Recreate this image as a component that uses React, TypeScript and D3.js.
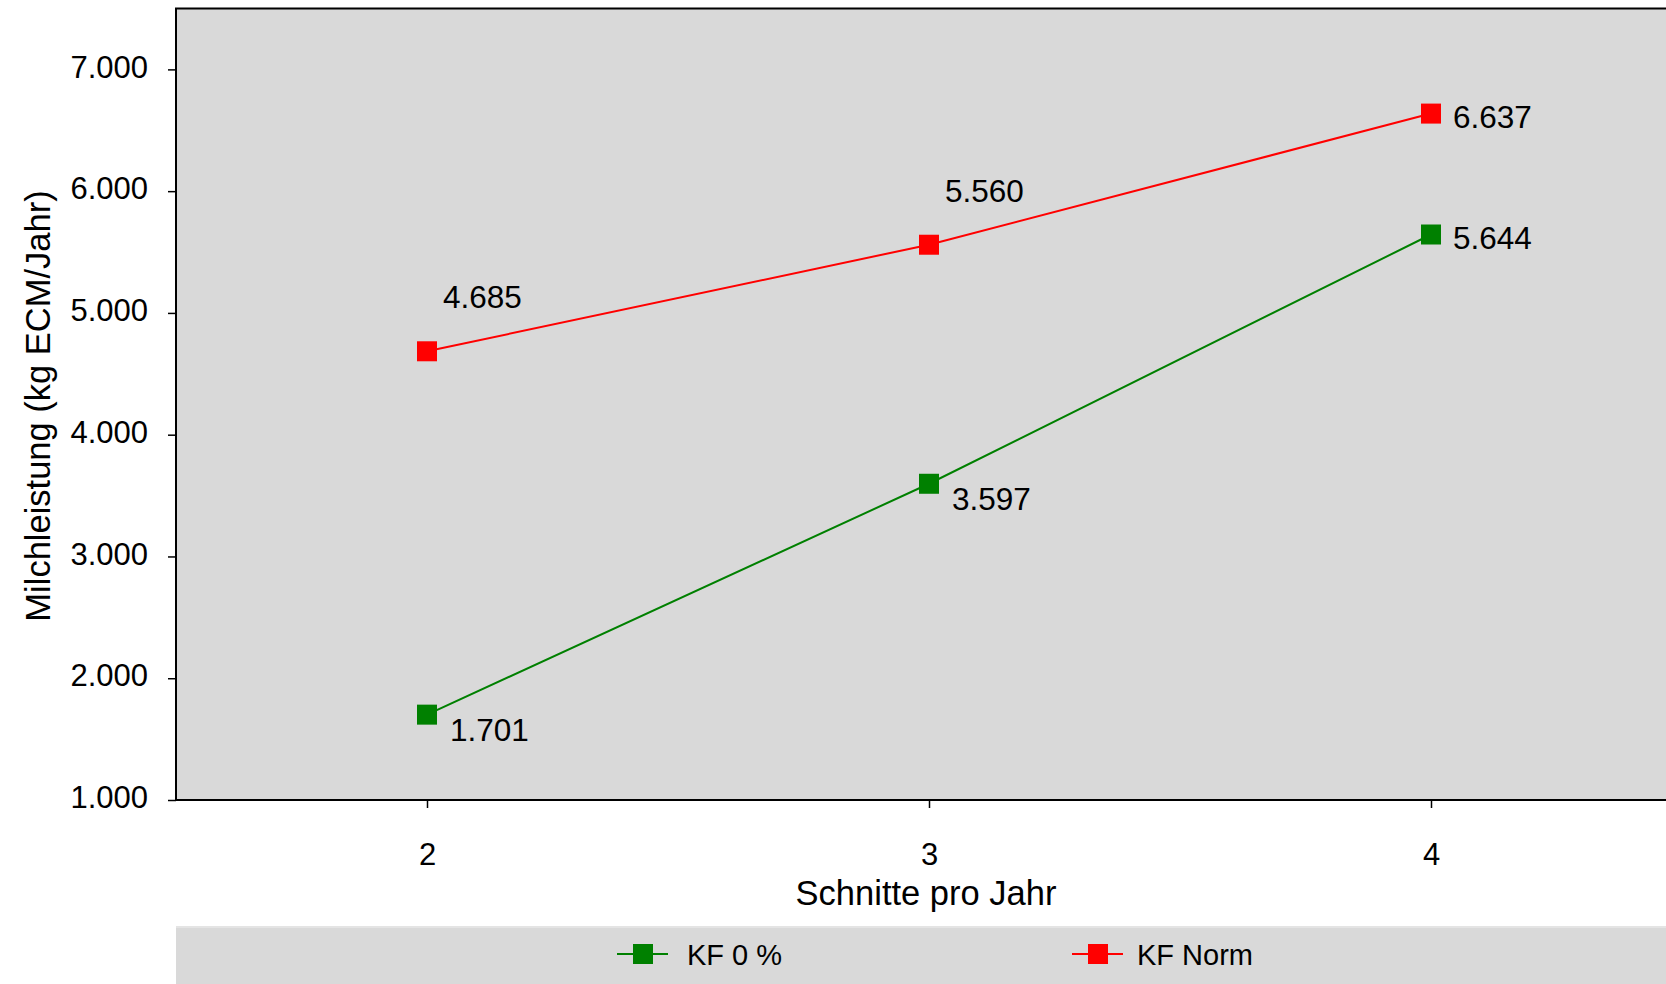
import React, { useEffect, useRef } from 'react';
import * as d3 from 'd3';

// Chart data
const categories = [2, 3, 4];
const kfNull = [1701, 3597, 5644];
const kfNorm = [4685, 5560, 6637];
const yTickValues = [1000, 2000, 3000, 4000, 5000, 6000, 7000];
const seriesNames = ['KF 0 %', 'KF Norm'];
const seriesColors = ['#008000', '#ff0000'];

const de = d3.formatLocale({ decimal: ',', thousands: '.', grouping: [3], currency: ['', ' €'] });
const fmt = de.format(',.0f');

const FONT = '"Liberation Sans", Arial, Helvetica, sans-serif';

const App: React.FC = () => {
  const svgRef = useRef<SVGSVGElement | null>(null);

  useEffect(() => {
    document.body.style.margin = '0';

    const width = 1666;
    const height = 984;
    const margin = { top: 8.5, left: 176 };
    const plotW = 1506;
    const plotBottom = 800;

    const svg = d3.select(svgRef.current!);
    svg.selectAll('*').remove();

    const x = d3.scaleLinear().domain([1.5, 4.5]).range([margin.left, margin.left + plotW]);
    const y = d3.scaleLinear().domain([1000, 7500]).range([plotBottom, margin.top]);

    // plot background
    svg
      .append('rect')
      .attr('x', margin.left)
      .attr('y', margin.top)
      .attr('width', plotW)
      .attr('height', plotBottom - margin.top)
      .attr('fill', '#d9d9d9')
      .attr('stroke', '#000')
      .attr('stroke-width', 2);

    // y axis
    const yAxis = svg
      .append('g')
      .attr('transform', `translate(${margin.left},0)`)
      .call(d3.axisLeft(y).tickValues(yTickValues).tickSize(8).tickPadding(20).tickFormat((d) => fmt(d as number)));
    yAxis.select('.domain').remove();
    yAxis.selectAll('line').attr('stroke', '#000').attr('stroke-width', 1.5);
    yAxis
      .selectAll('text')
      .attr('dy', '0.25em')
      .style('font-family', FONT)
      .style('font-size', '31px')
      .attr('fill', '#000');

    // x axis
    const xAxis = svg
      .append('g')
      .attr('transform', `translate(0,${plotBottom})`)
      .call(d3.axisBottom(x).tickValues(categories).tickSize(8).tickPadding(35).tickFormat((d) => String(d)));
    xAxis.select('.domain').remove();
    xAxis.selectAll('line').attr('stroke', '#000').attr('stroke-width', 1.5);
    xAxis.selectAll('text').style('font-family', FONT).style('font-size', '31px').attr('fill', '#000');

    svg
      .append('line')
      .attr('x1', margin.left)
      .attr('x2', width)
      .attr('y1', plotBottom)
      .attr('y2', plotBottom)
      .attr('stroke', '#000')
      .attr('stroke-width', 2);

    // axis titles
    svg
      .append('text')
      .attr('x', 926)
      .attr('y', 905)
      .attr('text-anchor', 'middle')
      .style('font-family', FONT)
      .style('font-size', '34.5px')
      .text('Schnitte pro Jahr');

    svg
      .append('text')
      .attr('transform', 'translate(50,406) rotate(-90)')
      .attr('text-anchor', 'middle')
      .style('font-family', FONT)
      .style('font-size', '34.5px')
      .text('Milchleistung (kg ECM/Jahr)');

    // series
    const allSeries = [kfNull, kfNorm];
    const line = d3
      .line<number>()
      .x((_, i) => x(categories[i]))
      .y((d) => y(d));

    allSeries.forEach((values, s) => {
      const g = svg.append('g');
      g.append('path')
        .attr('d', line(values))
        .attr('fill', 'none')
        .attr('stroke', seriesColors[s])
        .attr('stroke-width', 2);

      g.selectAll('rect')
        .data(values)
        .enter()
        .append('rect')
        .attr('x', (_, i) => x(categories[i]) - 10)
        .attr('y', (d) => y(d) - 10)
        .attr('width', 20)
        .attr('height', 20)
        .attr('fill', seriesColors[s]);

      // value labels: last point to the right, others above (KF Norm) or below-right (KF 0 %)
      g.selectAll('text')
        .data(values)
        .enter()
        .append('text')
        .attr('x', (_, i) => x(categories[i]) + (i === values.length - 1 ? 22 : s === 1 ? 16 : 23))
        .attr('y', (d, i) => y(d) + (i === values.length - 1 ? 14 : s === 1 ? -43 : 26))
        .style('font-family', FONT)
        .style('font-size', '31.5px')
        .attr('fill', '#000')
        .text((d) => fmt(d));
    });

    // legend
    svg
      .append('rect')
      .attr('x', margin.left)
      .attr('y', 927)
      .attr('width', width - margin.left)
      .attr('height', height - 927)
      .attr('fill', '#d9d9d9');
    svg
      .append('line')
      .attr('x1', margin.left)
      .attr('x2', width)
      .attr('y1', 927)
      .attr('y2', 927)
      .attr('stroke', '#e4e4e4')
      .attr('stroke-width', 2);

    const legendX = [617, 1072];
    const legendTextX = [70, 65];
    seriesNames.forEach((name, s) => {
      const lg = svg.append('g').attr('transform', `translate(${legendX[s]},954)`);
      lg.append('line').attr('x1', 0).attr('x2', 51).attr('stroke', seriesColors[s]).attr('stroke-width', 2);
      lg.append('rect').attr('x', 16).attr('y', -10).attr('width', 20).attr('height', 20).attr('fill', seriesColors[s]);
      lg.append('text')
        .attr('x', legendTextX[s])
        .attr('y', 11)
        .style('font-family', FONT)
        .style('font-size', '29px')
        .text(name);
    });
  }, []);

  return (
    <svg
      ref={svgRef}
      width={1666}
      height={984}
      style={{ display: 'block', background: '#fff', overflow: 'hidden' }}
    />
  );
};

export default App;
